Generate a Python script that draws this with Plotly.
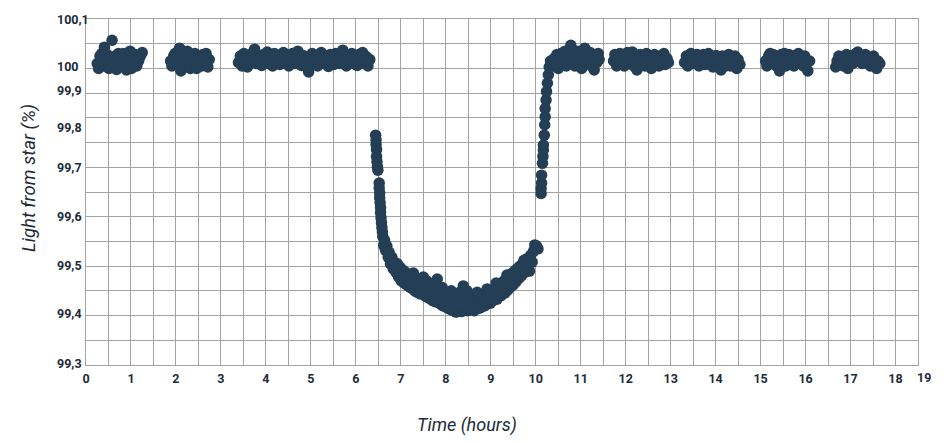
import plotly.graph_objects as go

# ---- data (time in hours, light from star in % on the chart's linear scale) ----
seg1_t = [0.25, 0.28, 0.31, 0.35, 0.38, 0.41, 0.44, 0.47, 0.51, 0.55, 0.58, 0.61, 0.65, 0.68, 0.72,
          0.76, 0.79, 0.83, 0.87, 0.90, 0.94, 0.98, 1.01, 1.05, 1.09, 1.13, 1.17, 1.21, 1.25]
seg1_v = [99.910, 99.900, 99.925, 99.930, 99.905, 99.943, 99.915, 99.928, 99.900, 99.920, 99.957, 99.910,
          99.925, 99.898, 99.930, 99.915, 99.905, 99.930, 99.912, 99.897, 99.922, 99.935, 99.900, 99.918,
          99.928, 99.905, 99.915, 99.925, 99.932]

seg2_t = [1.88, 1.91, 1.95, 1.98, 2.02, 2.05, 2.08, 2.11, 2.14, 2.18, 2.21, 2.25, 2.28, 2.32, 2.35,
          2.39, 2.42, 2.46, 2.50, 2.53, 2.57, 2.60, 2.64, 2.67, 2.71, 2.74]
seg2_v = [99.915, 99.905, 99.925, 99.930, 99.910, 99.935, 99.941, 99.895, 99.930, 99.920, 99.905, 99.935,
          99.915, 99.900, 99.925, 99.910, 99.930, 99.900, 99.920, 99.915, 99.905, 99.928, 99.910, 99.930,
          99.903, 99.918]

seg3_t = [3.39, 3.43, 3.47, 3.51, 3.55, 3.59, 3.63, 3.67, 3.71, 3.75, 3.79, 3.83, 3.87, 3.91, 3.95,
          3.99, 4.03, 4.07, 4.11, 4.15, 4.19, 4.23, 4.27, 4.31, 4.35, 4.39, 4.43, 4.47, 4.51, 4.55,
          4.59, 4.63, 4.67, 4.71, 4.75, 4.79, 4.83, 4.87, 4.91, 4.95, 4.99, 5.03, 5.07, 5.11, 5.15,
          5.19, 5.23, 5.27, 5.31, 5.35, 5.39, 5.43, 5.47, 5.51, 5.55, 5.59, 5.63, 5.67, 5.71, 5.75,
          5.79, 5.83, 5.87, 5.91, 5.95, 5.99, 6.03, 6.07, 6.11, 6.15, 6.19, 6.23, 6.27, 6.31]
seg3_v = [99.912, 99.925, 99.905, 99.930, 99.918, 99.903, 99.922, 99.912, 99.932, 99.939, 99.910, 99.924,
          99.915, 99.906, 99.928, 99.918, 99.933, 99.910, 99.922, 99.905, 99.930, 99.916, 99.925, 99.908,
          99.920, 99.932, 99.912, 99.924, 99.905, 99.918, 99.930, 99.910, 99.922, 99.935, 99.915, 99.906,
          99.926, 99.918, 99.908, 99.893, 99.920, 99.930, 99.912, 99.924, 99.905, 99.918, 99.932, 99.910,
          99.925, 99.915, 99.904, 99.928, 99.918, 99.908, 99.930, 99.920, 99.910, 99.926, 99.937, 99.915,
          99.905, 99.925, 99.918, 99.930, 99.910, 99.922, 99.906, 99.928, 99.915, 99.932, 99.910, 99.924,
          99.905, 99.918]

transit_t = [6.44, 6.45, 6.45, 6.46, 6.46, 6.47, 6.48, 6.49, 6.52, 6.52, 6.53, 6.53, 6.54, 6.55, 6.55,
             6.56, 6.57, 6.58, 6.59, 6.60, 6.62, 6.64, 6.66, 6.69, 6.72, 6.74, 6.77, 6.80, 6.83, 6.86,
             6.89, 6.92, 6.95, 6.98, 7.01, 7.04, 7.07, 7.10, 7.13, 7.16, 7.19, 7.22, 7.25, 7.28, 7.31,
             7.34, 7.37, 7.40, 7.43, 7.46, 7.50, 7.53, 7.56, 7.59, 7.62, 7.65, 7.68, 7.71, 7.74, 7.77,
             7.81, 7.84, 7.87, 7.90, 7.93, 7.96, 7.99, 8.02, 8.05, 8.08, 8.11, 8.14, 8.17, 8.20, 8.23,
             8.26, 8.29, 8.32, 8.35, 8.39, 8.42, 8.45, 8.48, 8.51, 8.54, 8.57, 8.60, 8.63, 8.66, 8.69,
             8.72, 8.75, 8.78, 8.81, 8.84, 8.87, 8.90, 8.93, 8.96, 8.99, 9.02, 9.05, 9.08, 9.11, 9.14,
             9.17, 9.20, 9.23, 9.26, 9.29, 9.32, 9.35, 9.38, 9.41, 9.44, 9.47, 9.50, 9.53, 9.56, 9.59,
             9.62, 9.65, 9.68, 9.71, 9.74, 9.77, 9.80, 9.83, 9.86, 9.89, 9.92, 9.95, 9.98, 10.02, 10.05,
             7.28, 7.58, 7.70, 7.92, 8.12, 8.31, 8.47, 8.70, 8.92, 9.12, 9.36]
transit_v = [99.765, 99.755, 99.746, 99.736, 99.722, 99.711, 99.701, 99.694, 99.668, 99.658, 99.648, 99.638,
             99.628, 99.618, 99.608, 99.598, 99.588, 99.578, 99.569, 99.560, 99.542, 99.552, 99.532, 99.540,
             99.518, 99.528, 99.505, 99.518, 99.495, 99.508, 99.488, 99.505, 99.478, 99.498, 99.470, 99.492,
             99.466, 99.488, 99.462, 99.484, 99.458, 99.480, 99.455, 99.478, 99.450, 99.474, 99.447, 99.470,
             99.444, 99.466, 99.478, 99.440, 99.462, 99.437, 99.458, 99.434, 99.455, 99.430, 99.452, 99.428,
             99.474, 99.448, 99.424, 99.445, 99.420, 99.442, 99.418, 99.440, 99.415, 99.437, 99.412, 99.435,
             99.410, 99.430, 99.407, 99.432, 99.410, 99.435, 99.408, 99.460, 99.418, 99.438, 99.410, 99.432,
             99.412, 99.440, 99.416, 99.410, 99.436, 99.414, 99.434, 99.415, 99.440, 99.418, 99.436, 99.420,
             99.445, 99.424, 99.442, 99.425, 99.450, 99.430, 99.448, 99.455, 99.433, 99.458, 99.464, 99.440,
             99.462, 99.470, 99.446, 99.474, 99.452, 99.478, 99.458, 99.485, 99.462, 99.490, 99.468, 99.495,
             99.475, 99.500, 99.480, 99.505, 99.512, 99.488, 99.515, 99.500, 99.490, 99.522, 99.508, 99.530,
             99.543, 99.540, 99.535,
             99.486, 99.470, 99.464, 99.457, 99.450, 99.447, 99.450, 99.447, 99.454, 99.466, 99.482]

egress_t = [10.12, 10.12, 10.13, 10.13, 10.15, 10.16, 10.17, 10.17, 10.19, 10.20, 10.21, 10.21, 10.23,
            10.24, 10.26, 10.28, 10.30, 10.33]
egress_v = [99.647, 99.657, 99.668, 99.684, 99.708, 99.722, 99.735, 99.745, 99.765, 99.786, 99.802, 99.819,
            99.836, 99.853, 99.870, 99.887, 99.903, 99.915]

seg4_t = [10.38, 10.41, 10.44, 10.47, 10.50, 10.53, 10.56, 10.59, 10.62, 10.65, 10.68, 10.71, 10.74, 10.78,
          10.81, 10.84, 10.87, 10.90, 10.93, 10.96, 10.99, 11.02, 11.05, 11.09, 11.12, 11.15, 11.18, 11.21,
          11.24, 11.27, 11.30, 11.33, 11.36, 11.39, 11.41]
seg4_v = [99.905, 99.920, 99.910, 99.928, 99.900, 99.918, 99.930, 99.910, 99.924, 99.935, 99.905, 99.920,
          99.930, 99.947, 99.915, 99.928, 99.905, 99.920, 99.935, 99.912, 99.925, 99.900, 99.918, 99.941,
          99.910, 99.926, 99.915, 99.932, 99.905, 99.920, 99.897, 99.925, 99.912, 99.930, 99.918]

seg5_t = [11.73, 11.76, 11.80, 11.83, 11.87, 11.90, 11.94, 11.97, 12.01, 12.04, 12.08, 12.11, 12.15, 12.18,
          12.22, 12.25, 12.29, 12.32, 12.36, 12.39, 12.43, 12.46, 12.50, 12.53, 12.57, 12.60, 12.64, 12.67,
          12.71, 12.74, 12.78, 12.81, 12.85, 12.88, 12.92, 12.95]
seg5_v = [99.915, 99.928, 99.905, 99.920, 99.930, 99.910, 99.925, 99.905, 99.920, 99.932, 99.912, 99.925,
          99.933, 99.905, 99.920, 99.897, 99.915, 99.928, 99.910, 99.922, 99.905, 99.930, 99.915, 99.925,
          99.900, 99.918, 99.928, 99.910, 99.922, 99.905, 99.925, 99.915, 99.930, 99.908, 99.920, 99.912]

seg6_t = [13.31, 13.35, 13.38, 13.42, 13.45, 13.49, 13.52, 13.56, 13.59, 13.63, 13.66, 13.70, 13.73, 13.77,
          13.80, 13.84, 13.87, 13.91, 13.94, 13.98, 14.01, 14.05, 14.08, 14.12, 14.15, 14.19, 14.22, 14.26,
          14.29, 14.33, 14.36, 14.40, 14.43, 14.47, 14.50, 14.54]
seg6_v = [99.912, 99.925, 99.905, 99.920, 99.930, 99.910, 99.922, 99.915, 99.928, 99.905, 99.920, 99.912,
          99.928, 99.908, 99.920, 99.930, 99.910, 99.922, 99.903, 99.918, 99.926, 99.910, 99.920, 99.897,
          99.925, 99.915, 99.905, 99.920, 99.928, 99.905, 99.918, 99.910, 99.925, 99.900, 99.918, 99.908]

seg7_t = [15.11, 15.14, 15.18, 15.21, 15.25, 15.28, 15.32, 15.35, 15.39, 15.42, 15.46, 15.49, 15.53, 15.56,
          15.60, 15.63, 15.67, 15.70, 15.74, 15.77, 15.81, 15.84, 15.88, 15.91, 15.95, 15.98, 16.02, 16.05,
          16.09]
seg7_v = [99.915, 99.905, 99.925, 99.930, 99.910, 99.928, 99.915, 99.905, 99.920, 99.895, 99.928, 99.912,
          99.930, 99.905, 99.920, 99.928, 99.910, 99.922, 99.905, 99.926, 99.915, 99.930, 99.910, 99.920,
          99.905, 99.925, 99.912, 99.895, 99.915]

seg8_t = [16.67, 16.70, 16.74, 16.77, 16.81, 16.84, 16.88, 16.91, 16.94, 16.98, 17.01, 17.05, 17.08, 17.12,
          17.16, 17.19, 17.23, 17.26, 17.30, 17.33, 17.37, 17.40, 17.44, 17.47, 17.51, 17.54, 17.58, 17.61,
          17.65]
seg8_v = [99.903, 99.915, 99.925, 99.910, 99.922, 99.905, 99.918, 99.928, 99.900, 99.915, 99.925, 99.910,
          99.922, 99.930, 99.933, 99.915, 99.925, 99.910, 99.920, 99.928, 99.912, 99.922, 99.905, 99.918,
          99.925, 99.910, 99.900, 99.915, 99.910]

x_tick_vals = list(range(0, 19))
x_extra_label = "19"
y_tick_labels = ["100,1", "100", "99,9", "99,8", "99,7", "99,6", "99,5", "99,4", "99,3"]
y_tick_vals = [100.0, 99.903, 99.856, 99.781, 99.700, 99.601, 99.502, 99.405, 99.304]

time_h = (seg1_t + seg2_t + seg3_t + transit_t + egress_t + seg4_t + seg5_t + seg6_t + seg7_t + seg8_t)
light = (seg1_v + seg2_v + seg3_v + transit_v + egress_v + seg4_v + seg5_v + seg6_v + seg7_v + seg8_v)

# ---- styling ----
DOT = "#243e56"
TXT = "#1d2b3a"
GRID = "#a3a3a3"
FONT = "Roboto"

# the page body has an 8px default margin: the figure is sized/placed to compensate
OFF = 8
W, H = 950 - OFF, 443 - OFF
L, T = 86 - OFF, 19 - OFF
pw, ph = 832.5, 346
R, B = W - L - pw, H - T - ph


def px_x(xw):  # window x pixel -> paper x
    return (xw - OFF - L) / pw


def px_y(yw):  # window y pixel -> paper y
    return (T + ph - (yw - OFF)) / ph


fig = go.Figure()
fig.add_trace(go.Scatter(
    x=time_h, y=light, mode="markers",
    marker=dict(size=11.5, color=DOT, line=dict(width=0)),
    hoverinfo="x+y", showlegend=False,
))

fig.update_layout(
    width=W, height=H,
    margin=dict(l=L, r=R, t=T, b=B, autoexpand=False),
    paper_bgcolor="white", plot_bgcolor="white",
    showlegend=False,
    font=dict(family=FONT, color=TXT),
)

fig.update_xaxes(
    range=[0, 18.5],
    tickmode="array", tickvals=x_tick_vals, ticktext=[str(v) for v in x_tick_vals],
    tickfont=dict(family=FONT, size=12.5, color=TXT, weight="bold"),
    showgrid=True, gridcolor=GRID, gridwidth=1,
    minor=dict(dtick=0.5, tick0=0, showgrid=True, gridcolor=GRID, gridwidth=1, ticks=""),
    showline=True, linecolor=GRID, linewidth=1, mirror=True,
    zeroline=False, ticks="", ticklabelstandoff=2,
)
fig.update_yaxes(
    range=[99.3, 100.0],
    tickmode="linear", tick0=99.3, dtick=0.05,
    showticklabels=False,
    showgrid=True, gridcolor=GRID, gridwidth=1,
    showline=True, linecolor=GRID, linewidth=1, mirror=True,
    zeroline=False, ticks="",
)

ann = []
for lab, val in zip(y_tick_labels, y_tick_vals):
    ann.append(dict(
        x=px_x(55), xref="paper", xanchor="left",
        y=val, yref="y", yanchor="middle",
        text=lab, showarrow=False,
        font=dict(family=FONT, size=12.5, color=TXT, weight="bold"),
    ))
ann.append(dict(
    x=px_x(925), xref="paper", xanchor="center",
    y=px_y(377.5), yref="paper", yanchor="middle",
    text=x_extra_label, showarrow=False,
    font=dict(family=FONT, size=12.5, color=TXT, weight="bold"),
))
ann.append(dict(
    x=px_x(467), xref="paper", xanchor="center",
    y=px_y(425), yref="paper", yanchor="middle",
    text="<i>Time (hours)</i>", showarrow=False,
    font=dict(family=FONT, size=18, color=TXT),
))
ann.append(dict(
    x=px_x(29), xref="paper", xanchor="center",
    y=px_y(178), yref="paper", yanchor="middle",
    text="<i>Light from star (%)</i>", showarrow=False, textangle=-90,
    font=dict(family=FONT, size=18.5, color=TXT),
))
fig.update_layout(annotations=ann)

fig.write_html("out.html")
